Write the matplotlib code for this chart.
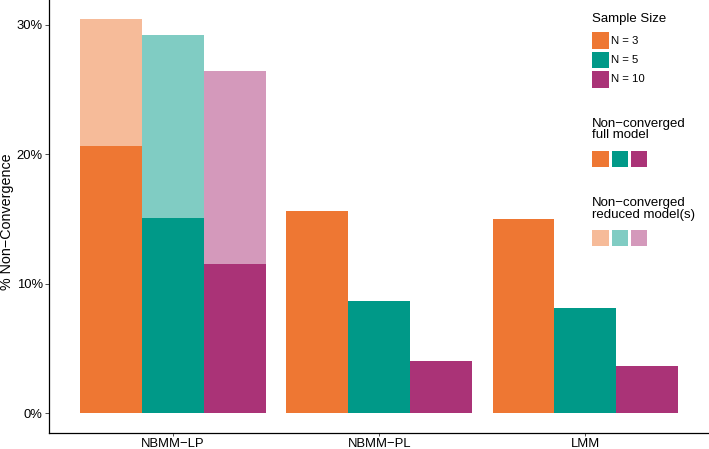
import matplotlib
matplotlib.use("Agg")
import matplotlib.pyplot as plt
from matplotlib.patches import Rectangle

plt.rcParams['font.family'] = ['Liberation Sans', 'DejaVu Sans']

categories = ["NBMM\u2212LP", "NBMM\u2212PL", "LMM"]
sample_sizes = ["N = 3", "N = 5", "N = 10"]
# % non-convergence of the full model, per category, per sample size
full_n3 = [20.6, 15.6, 14.95]
full_n5 = [15.1, 8.65, 8.1]
full_n10 = [11.5, 4.05, 3.65]
# additional % non-convergence of reduced model(s) (stacked on top)
reduced_n3 = [9.8, 0.0, 0.0]
reduced_n5 = [14.1, 0.0, 0.0]
reduced_n10 = [14.9, 0.0, 0.0]
yticks = [0, 10, 20, 30]
ytick_labels = ["0%", "10%", "20%", "30%"]

dark = ["#EE7733", "#009988", "#AA3377"]
light = ["#F6BB99", "#80CCC3", "#D499BB"]

W, H = 709, 449
fig = plt.figure(figsize=(W / 100, H / 100), dpi=100)
ax = fig.add_axes([49.3 / W, (H - 432.5) / H, 1 - 49.3 / W, 432.5 / H])

fulls = [full_n3, full_n5, full_n10]
reds = [reduced_n3, reduced_n5, reduced_n10]
width = 0.3
offsets = [-0.3, 0.0, 0.3]
x = [1, 2, 3]
for k in range(3):
    xs = [xi + offsets[k] for xi in x]
    ax.bar(xs, fulls[k], width=width, color=dark[k], linewidth=0)
    ax.bar(xs, reds[k], width=width, bottom=fulls[k], color=light[k], linewidth=0)

ax.set_xlim(0.4, 3.6)
ax.set_ylim(-1.5, 31.9)
ax.set_xticks(x)
ax.set_xticklabels(categories, fontsize=9.4, color="black")
ax.set_yticks(yticks)
ax.set_yticklabels(ytick_labels, fontsize=9.4, color="black")
ax.tick_params(axis="y", length=3.2, width=0.6, color="#333333", pad=1.5)
ax.tick_params(axis="x", length=2.4, width=0.6, color="#333333", pad=1.8)
ax.set_ylabel("% Non\u2212Convergence", fontsize=10.3)
ax.yaxis.set_label_coords(-35.5 / (W - 49.3), 0.488)
for s in ["top", "right"]:
    ax.spines[s].set_visible(False)
for s in ["left", "bottom"]:
    ax.spines[s].set_linewidth(0.9)
    ax.spines[s].set_color("black")


def px(xp, yp):
    return xp / W, 1 - yp / H


def key(x0, y0, x1, y1, color):
    fx, fy = px(x0, y1)
    fig.patches.append(Rectangle((fx, fy), (x1 - x0) / W, (y1 - y0) / H,
                                 transform=fig.transFigure, color=color,
                                 linewidth=0))


tx, ty = px(592, 19)
fig.text(tx, ty, "Sample Size", fontsize=9.5, va="center", ha="left")
key_rows = [(32.3, 49.0), (51.7, 68.3), (71.0, 87.7)]
for k, (y0, y1) in enumerate(key_rows):
    key(592, y0, 608.7, y1, dark[k])
    lx, ly = px(610.7, (y0 + y1) / 2)
    fig.text(lx, ly, sample_sizes[k], fontsize=8.2, va="center", ha="left")

tx, ty = px(592, 129.5)
fig.text(tx, ty, "Non\u2212converged\nfull model", fontsize=9.5, va="center",
         ha="left", linespacing=1.0)
cols = [(592, 608.7), (611.7, 628.3), (631, 647.3)]
for k, (x0, x1) in enumerate(cols):
    key(x0, 151, x1, 166.7, dark[k])

tx, ty = px(592, 209)
fig.text(tx, ty, "Non\u2212converged\nreduced model(s)", fontsize=9.5,
         va="center", ha="left", linespacing=1.0)
for k, (x0, x1) in enumerate(cols):
    key(x0, 230, x1, 246, light[k])

fig.savefig("out.png", dpi=100)
